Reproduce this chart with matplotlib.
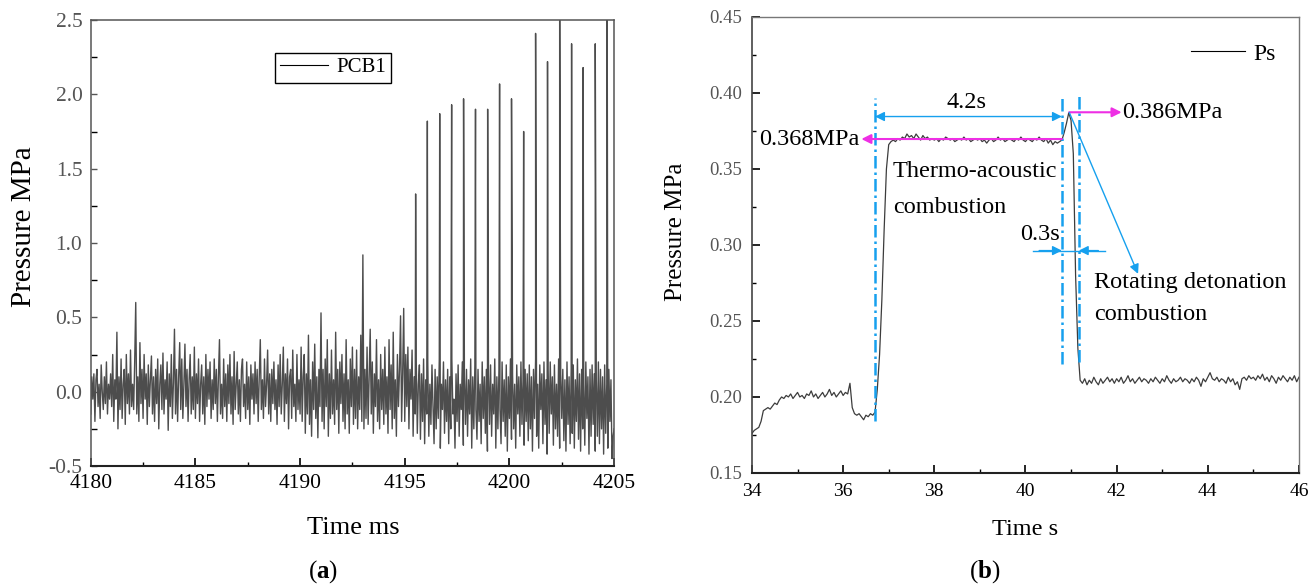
import numpy as np
import matplotlib
matplotlib.use("Agg")
import matplotlib.pyplot as plt
from matplotlib.ticker import MultipleLocator, FormatStrFormatter

plt.rcParams['font.family'] = ['Liberation Serif', 'DejaVu Serif']
plt.rcParams['mathtext.fontset'] = 'custom'
plt.rcParams['mathtext.rm'] = 'Liberation Serif'
plt.rcParams['mathtext.bf'] = 'Liberation Serif:bold'

# ---------------- Panel (a) data: PCB1 pressure, 4180-4205 ms, 0.05 ms step (values in 0.01 MPa)
pcb_t0 = 4180.0
pcb_dt = 0.05
pcb_noise = [
    -15, 10, -5, 12, -20, 8, 15, -10, 5, -18, 18, 0, -12, 10, -8, 20, -15, 5, -5, 12,
    -10, 25, -20, 8, -5, 40, -25, 10, -12, 22, -18, 5, 15, -22, 25, -8, 12, -15, 28, -10,
    5, -12, 20, 60, -15, 10, -20, 33, -8, 15, -18, 25, -5, 12, -22, 18, -10, 8, 24, -15,
    10, -20, 15, -8, 22, -25, 5, 18, -12, 26, -15, 8, -5, 20, -26, 12, -10, 25, -18, 6,
    42, -15, 15, -20, 10, 33, -12, 22, -18, 5, 32, -10, 15, -20, 8, 25, -15, 10, -12, 30,
    -18, 12, -8, 22, -20, 5, 18, -15, 10, -22, 25, -10, 15, -5, 20, -18, 8, -12, 22, -8,
    15, -20, 10, 35, -15, 5, -18, 22, -10, 12, -20, 18, -8, 25, -15, 10, -22, 27, -12, 5,
    20, -15, 8, -20, 15, 22, -10, 5, -18, 20, -12, 10, -22, 18, -5, 12, -15, 20, -8, 15,
    -20, 10, 35, -12, 8, -18, 22, -10, 5, 28, -15, 12, -20, 15, -8, 20, -12, 8, -22, 18,
    -10, 25, -15, 5, 30, -20, 12, -8, 22, -25, 10, 15, -18, 28, -10, 5, -20, 25, -12, 8,
    -15, 30, -20, 10, 25, -28, 12, -15, 38, -22, 8, -30, 20, -12, 32, -18, 10, -31, 15, -10,
    53, -20, 15, -25, 22, -10, 35, -30, 12, -18, 28, -15, 8, -22, 40, -12, 15, -28, 20, -8,
    25, -20, 12, -25, 35, -15, 8, -28, 22, -10, 30, -22, 15, -18, 28, -25, 10, -12, 38, -20,
    92, -25, 15, -18, 30, -22, 10, 42, -15, 20, -28, 12, -10, 35, -20, 8, -25, 25, -12, 15,
    -22, 30, -15, 10, -28, 35, -12, 18, -25, 40, -18, 8, -30, 25, -10, 15, 51, -20, 12, 56,
    -20, 25, -10, 30, -25, 15, -5, 28, -30, 10, -15, 20, -28, 5, 18, -32, 12, -20, 22, -35,
    8, -15, 20, -30, 5, -22, 18, -10, -35, 15, -25, 10, -18, 22, -38, 5, -12, 20, -28, 8,
    -20, 15, -35, 10, -25, 22, -15, -5, -38, 12, -20, 18, -30, 5, -12, 20, -36, 10, -22, 15,
    -30, 8, -15, 22, -38, 10, -25, 18, -12, -32, 15, -20, 5, -35, 20, -18, 10, -28, 15, -40,
    12, -22, 18, -30, 5, -15, 22, -38, 10, -25, 15, -12, -35, 20, -20, 8, -30, 18, -40, 10,
    -18, 22, -32, 12, -25, 5, -38, 18, -15, 10, -30, 20, -22, 8, -36, 15, -20, 12, -33, 18,
    -25, 10, -40, 15, -18, 22, -30, 5, -38, 18, -12, 12, -35, 20, -22, 8, -42, 15, -28, 20,
    -15, 10, -36, 18, -25, 5, -30, 22, -38, 12, -18, 15, -33, 8, -40, 20, -22, 10, -35, 15,
    -28, 18, -38, 8, -20, 22, -32, 12, -40, 15, -25, 5, -36, 20, -18, 10, -42, 15, -30, 18,
    -22, 12, -40, 8, -30, 20, -35, 15, -25, 10, -42, 18, -28, 5, -38, 15, -20, 8, -45, -30, -25,
]
spike_times = [4195.52, 4196.08, 4196.67, 4197.24, 4197.81, 4198.38, 4198.96, 4199.53,
               4200.10, 4200.68, 4201.25, 4201.82, 4202.40, 4202.97, 4203.52, 4204.10, 4204.67]
spike_peaks = [1.33, 1.82, 1.87, 1.93, 1.97, 1.90, 1.90, 2.07,
               1.97, 1.75, 2.41, 2.22, 2.70, 2.34, 2.18, 2.34, 2.70]

# ---------------- Panel (b) data: Ps, 34-46 s, 0.05 s step (MPa)
ps_t0 = 34.0
ps_dt = 0.05
ps_values = [
    0.176, 0.178, 0.179, 0.180, 0.184, 0.191, 0.192, 0.193, 0.192, 0.194, 0.196, 0.195, 0.198, 0.200, 0.199, 0.201, 0.200, 0.202, 0.199, 0.201,
    0.203, 0.200, 0.201, 0.199, 0.202, 0.201, 0.204, 0.200, 0.202, 0.199, 0.201, 0.203, 0.200, 0.202, 0.205, 0.201, 0.203, 0.200, 0.202, 0.204,
    0.201, 0.203, 0.202, 0.209, 0.193, 0.189, 0.188, 0.189, 0.187, 0.185, 0.188, 0.187, 0.189, 0.188, 0.190, 0.205, 0.228, 0.264, 0.310, 0.350,
    0.366, 0.368, 0.369, 0.368, 0.370, 0.369, 0.371, 0.370, 0.373, 0.371, 0.372, 0.370, 0.373, 0.371, 0.369, 0.372, 0.370, 0.371, 0.369, 0.370,
    0.369, 0.370, 0.368, 0.370, 0.369, 0.371, 0.370, 0.369, 0.370, 0.368, 0.369, 0.370, 0.369, 0.371, 0.369, 0.370, 0.368, 0.369, 0.370, 0.369,
    0.370, 0.368, 0.369, 0.367, 0.369, 0.370, 0.368, 0.369, 0.371, 0.369, 0.370, 0.368, 0.369, 0.370, 0.369, 0.368, 0.370, 0.369, 0.371, 0.369,
    0.368, 0.370, 0.369, 0.368, 0.370, 0.369, 0.371, 0.369, 0.368, 0.370, 0.367, 0.369, 0.366, 0.368, 0.367, 0.368, 0.369, 0.374, 0.380, 0.387,
    0.382, 0.360, 0.280, 0.232, 0.211, 0.209, 0.212, 0.208, 0.211, 0.209, 0.213, 0.210, 0.208, 0.212, 0.209, 0.211, 0.213, 0.210, 0.212, 0.209,
    0.212, 0.210, 0.213, 0.209, 0.211, 0.214, 0.210, 0.212, 0.209, 0.211, 0.213, 0.210, 0.212, 0.211, 0.209, 0.212, 0.210, 0.213, 0.211, 0.209,
    0.212, 0.210, 0.214, 0.211, 0.209, 0.212, 0.210, 0.211, 0.213, 0.210, 0.212, 0.211, 0.209, 0.212, 0.210, 0.213, 0.211, 0.207, 0.212, 0.210,
    0.213, 0.216, 0.212, 0.211, 0.213, 0.210, 0.212, 0.211, 0.209, 0.213, 0.210, 0.212, 0.208, 0.210, 0.205, 0.212, 0.213, 0.211, 0.214, 0.212,
    0.213, 0.211, 0.214, 0.212, 0.215, 0.211, 0.213, 0.210, 0.214, 0.212, 0.209, 0.213, 0.211, 0.214, 0.212, 0.210, 0.213, 0.211, 0.214, 0.210, 0.213,
]

# ---------------- build series
noise_v = np.array(pcb_noise) / 100.0
noise_t = pcb_t0 + pcb_dt * np.arange(len(noise_v))
t_all = np.concatenate([noise_t, spike_times])
v_all = np.concatenate([noise_v, spike_peaks])
order = np.argsort(t_all, kind='stable')
t_all, v_all = t_all[order], v_all[order]

ps_v = np.array(ps_values)
ps_t = ps_t0 + ps_dt * np.arange(len(ps_v))

# ---------------- figure
fig = plt.figure(figsize=(13.13, 5.85), dpi=100)
ax1 = fig.add_axes([0.0691, 0.2034, 0.3986, 0.7624])
ax2 = fig.add_axes([0.5727, 0.1915, 0.4166, 0.7795])

tick_col = '#555555'
line_col = '#4d4d4d'

# ---- panel (a)
ax1.plot(t_all, v_all, color=line_col, lw=1.0, label='PCB1')
ax1.set_xlim(4180, 4205)
ax1.set_ylim(-0.5, 2.5)
ax1.xaxis.set_major_locator(MultipleLocator(5))
ax1.xaxis.set_minor_locator(MultipleLocator(2.5))
ax1.yaxis.set_major_locator(MultipleLocator(0.5))
ax1.yaxis.set_minor_locator(MultipleLocator(0.25))
ax1.yaxis.set_major_formatter(FormatStrFormatter('%.1f'))
ax1.tick_params(axis='x', which='major', direction='in', length=6, width=1.2, labelsize=15.5,
                colors='black', pad=5.5, top=False)
ax1.tick_params(axis='x', which='minor', direction='in', length=3, width=1.0, top=False)
ax1.tick_params(axis='y', which='both', direction='in', length=4.5, width=1.0, right=False)
ax1.tick_params(axis='y', which='major', labelsize=15.5, pad=6)
ax1.tick_params(axis='x', labelcolor='black')
ax1.tick_params(axis='y', labelcolor=tick_col, colors=tick_col)
for s in ax1.spines.values():
    s.set_color('#555555')
    s.set_linewidth(1.1)
ax1.spines['bottom'].set_color('#222222')
ax1.spines['bottom'].set_linewidth(1.5)
ax1.set_xlabel('Time ms', fontsize=19)
ax1.xaxis.set_label_coords(0.501, -0.139)
ax1.xaxis.label.set_va('center')
ax1.set_ylabel('Pressure MPa', fontsize=21)
ax1.yaxis.set_label_coords(-0.128, 0.537)
ax1.yaxis.label.set_va('center')
leg1 = ax1.legend(loc='upper left', bbox_to_anchor=(0.352, 0.927), borderaxespad=0,
                  fontsize=15, handlelength=2.3, handletextpad=0.4, borderpad=0.25,
                  fancybox=False, edgecolor='black', framealpha=1)
leg1.get_frame().set_linewidth(1.0)
leg1.get_lines()[0].set_color('black')
leg1.get_lines()[0].set_linewidth(0.8)

# ---- panel (b)
ax2.plot(ps_t, ps_v, color='#3c3c3c', lw=0.9, label='Ps')
ax2.set_xlim(34, 46)
ax2.set_ylim(0.15, 0.45)
ax2.xaxis.set_major_locator(MultipleLocator(2))
ax2.xaxis.set_minor_locator(MultipleLocator(1))
ax2.yaxis.set_major_locator(MultipleLocator(0.05))
ax2.yaxis.set_minor_locator(MultipleLocator(0.025))
ax2.yaxis.set_major_formatter(FormatStrFormatter('%.2f'))
ax2.tick_params(which='major', direction='in', length=6, width=1.2, top=False, right=False)
ax2.tick_params(which='minor', direction='in', length=3, width=1.0, top=False, right=False)
ax2.tick_params(axis='x', labelsize=14, pad=7, labelcolor='black')
ax2.tick_params(axis='y', labelsize=13.5, pad=7, labelcolor=tick_col)
for s in ax2.spines.values():
    s.set_color('#777777')
    s.set_linewidth(1.0)
ax2.spines['bottom'].set_color('#222222')
ax2.spines['bottom'].set_linewidth(1.5)
ax2.spines['left'].set_color('#444444')
ax2.spines['left'].set_linewidth(1.2)
ax2.set_xlabel('Time s', fontsize=17.5)
ax2.xaxis.set_label_coords(0.5, -0.125)
ax2.xaxis.label.set_va('center')
ax2.set_ylabel('Pressure MPa', fontsize=18)
ax2.yaxis.set_label_coords(-0.139, 0.529)
ax2.yaxis.label.set_va('center')
leg2 = ax2.legend(loc='center right', bbox_to_anchor=(0.958, 0.919), borderaxespad=0,
                  borderpad=0, frameon=False, fontsize=17, handlelength=2.3, handletextpad=0.35)
leg2.get_lines()[0].set_color('black')
leg2.get_lines()[0].set_linewidth(0.8)

blue = '#16A0EE'
magenta = '#EE2FE4'
dashdot = (0, (5, 1.6, 1, 1.6))
ax2.plot([36.7, 36.7], [0.184, 0.397], color=blue, lw=1.8, linestyle=dashdot)
ax2.plot([40.8, 40.8], [0.222, 0.398], color=blue, lw=1.8, linestyle=dashdot)
ax2.plot([41.17, 41.17], [0.223, 0.398], color=blue, lw=1.8, linestyle=dashdot)

fs_ann = 17.5
# 4.2 s duration
ax2.annotate('', xy=(36.7, 0.3845), xytext=(40.8, 0.3845),
             arrowprops=dict(arrowstyle='<|-|>', color=blue, lw=1.0, mutation_scale=14,
                             shrinkA=0, shrinkB=0))
ax2.text(38.7, 0.3936, '4.2s', ha='center', va='center', fontsize=fs_ann)
# 0.368 MPa
ax2.annotate('', xy=(36.4, 0.3697), xytext=(40.8, 0.3697),
             arrowprops=dict(arrowstyle='-|>', color=magenta, lw=1.5, mutation_scale=14,
                             shrinkA=0, shrinkB=0))
ax2.text(36.35, 0.3697, '0.368MPa', ha='right', va='center', fontsize=fs_ann)
# 0.386 MPa
ax2.annotate('', xy=(42.11, 0.3873), xytext=(40.96, 0.3873),
             arrowprops=dict(arrowstyle='-|>', color=magenta, lw=1.5, mutation_scale=14,
                             shrinkA=0, shrinkB=0))
ax2.text(42.13, 0.3873, '0.386MPa', ha='left', va='center', fontsize=fs_ann)
# thermo-acoustic label
ax2.text(37.09, 0.3484, 'Thermo-acoustic', ha='left', va='center', fontsize=fs_ann)
ax2.text(37.09, 0.3245, 'combustion', ha='left', va='center', fontsize=fs_ann)
# 0.3 s duration
ax2.plot([40.17, 41.74], [0.2963, 0.2963], color=blue, lw=1.0)
ax2.annotate('', xy=(40.8, 0.2963), xytext=(40.3, 0.2963),
             arrowprops=dict(arrowstyle='-|>', color=blue, lw=1.0, mutation_scale=14,
                             shrinkA=0, shrinkB=0))
ax2.annotate('', xy=(41.17, 0.2963), xytext=(41.6, 0.2963),
             arrowprops=dict(arrowstyle='-|>', color=blue, lw=1.0, mutation_scale=14,
                             shrinkA=0, shrinkB=0))
ax2.text(40.76, 0.3068, '0.3s', ha='right', va='center', fontsize=fs_ann)
# rotating detonation
ax2.annotate('', xy=(42.47, 0.2810), xytext=(40.96, 0.3873),
             arrowprops=dict(arrowstyle='-|>', color=blue, lw=1.0, mutation_scale=14,
                             shrinkA=0, shrinkB=0))
ax2.text(41.51, 0.2754, 'Rotating detonation', ha='left', va='center', fontsize=fs_ann)
ax2.text(41.51, 0.2541, 'combustion', ha='left', va='center', fontsize=fs_ann)

# ---- subfigure captions
fig.text(323 / 1313, 1 - 572 / 585, r'($\mathbf{a}$)', ha='center', va='center', fontsize=18)
fig.text(985 / 1313, 1 - 572 / 585, r'($\mathbf{b}$)', ha='center', va='center', fontsize=18)

fig.savefig('out.png', dpi=100)
